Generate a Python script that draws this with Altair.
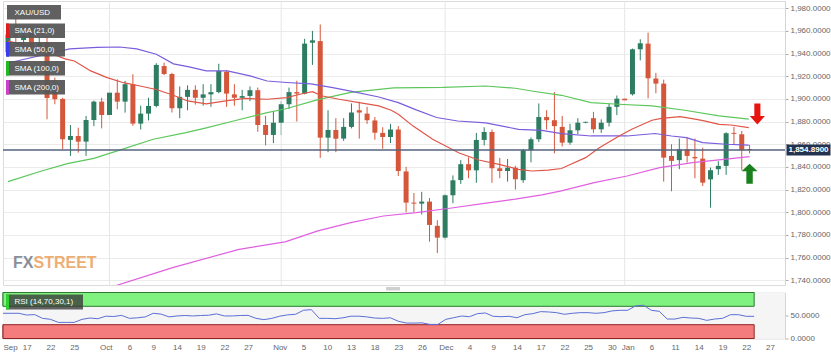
import altair as alt
import pandas as pd

# ---------------- data ----------------
dates = [d.strftime("%Y-%m-%d") for d in pd.bdate_range("2020-09-14", periods=96)]

opens = [1941, 1957, 1952, 1958, 1946.7, 1950, 1906, 1900, 1863.8, 1867.3,
         1862.3, 1881.4, 1897.6, 1885.8, 1905.5, 1897.6, 1913, 1878.2, 1887, 1893.8,
         1929, 1922, 1891.8, 1901.8, 1908, 1901, 1904, 1906, 1924, 1904,
         1901, 1902.6, 1907.7, 1877, 1868.2, 1879, 1895.3, 1906, 1904.7, 1949.6,
         1951, 1865.8, 1872.6, 1865, 1875.3, 1890, 1887, 1881, 1870, 1866.4,
         1873, 1836, 1808.5, 1807.6, 1809.4, 1788, 1777.6, 1815, 1828.4, 1842.4,
         1837, 1863.8, 1870.8, 1838.8, 1836.4, 1839.3, 1828.3, 1854.7, 1864.4, 1884,
         1881.2, 1875.3, 1861.4, 1872.3, 1879, 1883, 1873.2, 1879, 1893, 1900.2,
         1904.1, 1943.8, 1948.8, 1918, 1913.5, 1849.7, 1846, 1855.6, 1848.8, 1847.3,
         1829, 1838, 1840.9, 1870, 1868.8, 1855.8]
highs = [1966, 1972, 1961, 1962, 1955, 1955, 1918.8, 1901, 1877, 1874.6,
         1885, 1898.5, 1901, 1912.9, 1917.3, 1915.9, 1921.8, 1894, 1901, 1931.5,
         1932, 1923, 1911, 1912, 1912, 1913, 1913, 1931, 1925, 1913,
         1908, 1911, 1910, 1885, 1889, 1898, 1910, 1916, 1953, 1960,
         1965.7, 1890, 1883, 1883, 1896, 1897.5, 1893, 1884, 1875, 1878,
         1876, 1840, 1817, 1818, 1812.5, 1793, 1816, 1832.5, 1846, 1848.5,
         1870, 1875, 1873, 1848, 1847, 1841, 1855.6, 1866, 1896, 1890,
         1906, 1885, 1878, 1883, 1879.8, 1888.6, 1882, 1895.7, 1903, 1900.5,
         1944.5, 1952.6, 1958.5, 1923, 1917, 1860, 1865, 1866, 1865, 1857,
         1839.4, 1845, 1870.6, 1875.3, 1871.7, 1859.4]
lows = [1937, 1950, 1946, 1940, 1940, 1882, 1895.3, 1855.6, 1849.7, 1852.6,
        1849.7, 1876, 1874, 1881.4, 1890.9, 1887.9, 1876.2, 1873, 1881, 1892.5,
        1921, 1888, 1883, 1890, 1895, 1894, 1893, 1905, 1893, 1894,
        1890, 1898, 1871, 1859, 1861, 1868, 1891, 1880, 1904, 1930,
        1848, 1853, 1853, 1863, 1874, 1865, 1878, 1864, 1856, 1861,
        1832, 1800, 1800, 1798, 1774, 1764, 1776, 1808, 1825, 1830,
        1826, 1859, 1826, 1830, 1827, 1820, 1826, 1844, 1862, 1873,
        1852, 1858, 1859.6, 1869, 1878.5, 1870, 1870, 1875.6, 1885.7, 1898.5,
        1903, 1934, 1900.5, 1905, 1827, 1818.5, 1838, 1843.8, 1830, 1823.2,
        1804, 1833, 1833, 1859.4, 1837, 1852]
closes = [1957, 1955, 1956, 1946.7, 1949.7, 1900.8, 1899.7, 1864.4, 1867.3, 1862.3,
          1881.4, 1897.6, 1885.8, 1905.5, 1897.6, 1913, 1878.2, 1887, 1893.8, 1930,
          1922, 1891.8, 1901.8, 1908, 1901, 1904, 1906, 1924.7, 1904.7, 1901,
          1902.5, 1907.7, 1877, 1868.2, 1879, 1895.3, 1906, 1904.7, 1948.8, 1951.7,
          1865.8, 1872.6, 1864.9, 1875.3, 1888, 1888, 1881.2, 1870.2, 1866.4, 1873,
          1836.4, 1808.5, 1807.6, 1809.4, 1788.8, 1777.6, 1815, 1828.2, 1842.4, 1837,
          1863.8, 1870.8, 1838.8, 1836.4, 1839.3, 1829.2, 1854.7, 1864.4, 1884, 1881.2,
          1876, 1861.4, 1872.3, 1879, 1879.8, 1873.2, 1879, 1893, 1900.2, 1898.8,
          1943.8, 1949.1, 1918.2, 1913.5, 1848.2, 1845.3, 1855.6, 1849.7, 1847.6, 1826.1,
          1837.1, 1840.9, 1869.7, 1869.2, 1854.7, 1854.89]

rsi = [54.8, 54.8, 54.8, 51.0, 52.0, 43.8, 41.7, 35.0, 35.0, 35.0,
       41.7, 44.5, 43.0, 48.5, 47.8, 50.3, 43.8, 45.0, 47.0, 54.8,
       53.0, 47.0, 49.0, 50.0, 49.0, 50.0, 50.6, 53.5, 49.0, 49.0,
       50.0, 50.3, 43.8, 41.0, 43.8, 48.5, 51.4, 52.6, 61.4, 62.7,
       43.8, 43.8, 43.0, 45.0, 48.5, 48.5, 47.0, 44.5, 43.8, 45.0,
       37.5, 33.6, 33.5, 34.0, 30.6, 30.6, 41.6, 45.2, 48.9, 47.4,
       54.0, 55.5, 48.2, 47.4, 48.2, 45.2, 51.8, 54.0, 58.4, 57.7,
       56.2, 52.6, 54.8, 56.2, 56.2, 54.8, 56.2, 59.9, 61.3, 61.3,
       70.8, 72.3, 61.3, 59.1, 42.3, 42.3, 46.0, 44.5, 43.8, 39.4,
       42.3, 43.8, 51.8, 51.8, 48.2, 48.2]

sma21_x = [0, 3.8, 7.3, 8.5, 10.6, 12.7, 14.8, 16.9, 19.0, 21.1, 23.0, 25.4, 27.9, 30.4,
           33.2, 35.7, 37.4, 39.0, 40.3, 42.4, 45.0, 47.5, 49.1, 50.0, 51.9, 54.4, 57.8,
           60.3, 62.9, 65.4, 67.1, 69.2, 70.9, 72.1, 74.0, 75.7, 78.3, 79.9, 82.5, 83.7,
           86.1, 88.2, 89.2, 91.1, 92.6, 94.9]
sma21_y = [1951, 1945, 1935.3, 1933.5, 1924.7, 1918.8, 1914.3, 1911.4, 1908.3, 1903.5,
           1898.2, 1895.6, 1898.2, 1900.4, 1899.7, 1901.1, 1904.1, 1906.4, 1902.6, 1899.7,
           1896.7, 1893.8, 1890.0, 1886.5, 1876.0, 1864.4, 1852.3, 1846.1, 1842.3, 1837.9,
           1836.4, 1837.1, 1838.6, 1842.3, 1848.2, 1856.7, 1867.3, 1873.2, 1881.2, 1882.9,
           1884.3, 1882.0, 1880.6, 1877.6, 1877.0, 1874.6]

sma50_x = [0, 7.9, 11.4, 14.3, 16.5, 19.0, 21.2, 23.2, 25.4, 28.1, 31.0, 33.2, 35.7, 38.8,
           41.6, 43.9, 47.5, 50.0, 52.3, 54.9, 57.6, 61.2, 65.4, 68.4, 70.9, 74.7, 79.3,
           82.9, 85.0, 86.9, 89.0, 92.0, 94.9]
sma50_y = [1931.7, 1944.1, 1945.4, 1945.8, 1944.1, 1939.4, 1930.9, 1928.2, 1924.7, 1924.7,
           1920.3, 1915.8, 1914.5, 1913.2, 1909.9, 1906.8, 1901.7, 1896.7, 1890.3, 1883.6,
           1880.5, 1878.8, 1873.2, 1872.2, 1869.3, 1867.3, 1867.3, 1869.5, 1867.3, 1865.8,
           1861.4, 1860.0, 1859.2]

sma100_x = [0, 4.3, 7.6, 11.0, 14.4, 18.6, 22.8, 25.4, 28.9, 33.2, 35.5, 39.6, 43.9, 49.4,
            55.7, 61.2, 65.0, 67.1, 70.9, 74.7, 78.2, 82.5, 86.7, 91.1, 94.9]
sma100_y = [1827.0, 1836.4, 1842.9, 1847.6, 1855.0, 1864.4, 1870.2, 1874.4, 1880.5, 1887.9,
            1891.1, 1899.1, 1905.7, 1909.7, 1910.1, 1911.4, 1909.4, 1907.0, 1903.2, 1896.7,
            1895.3, 1893.8, 1890.0, 1885.0, 1882.1]

sma200_x = [13.7, 21.1, 29.6, 35.5, 39.7, 43.9, 48.1, 52.3, 56.6, 60.8, 65.0, 68.4, 70.9,
            75.1, 79.3, 83.5, 87.7, 92.0, 95.0]
sma200_y = [1735.0, 1751.1, 1767.3, 1773.8, 1783.5, 1790.8, 1796.7, 1799.6, 1803.5, 1807.6,
            1811.5, 1815.3, 1818.8, 1826.1, 1832.0, 1839.3, 1843.8, 1846.8, 1849.1]

current_price = 1854.89
month_starts = [13, 35, 56, 79]
arrow_x = [96.0, 95.0]
arrow_y = [1886.7, 1834.0]

tick_idx = [0, 3, 6, 9, 13, 16, 19, 22, 25, 28, 31, 35, 38, 41, 44, 47, 50, 53, 56, 59,
            62, 65, 68, 71, 74, 77, 79, 82, 85, 88, 91, 94, 97]
tick_lbl = ["Sep", "17", "22", "25", "Oct", "6", "9", "14", "19", "22", "27", "Nov", "5",
            "10", "13", "18", "23", "26", "Dec", "4", "9", "14", "17", "22", "25", "30",
            "Jan", "6", "11", "14", "19", "22", "27"]
price_ticks = list(range(1740, 1981, 20))
rsi_ticks = [0, 50]
legend_names = ["XAU/USD", "SMA (21,0)", "SMA (50,0)", "SMA (100,0)", "SMA (200,0)"]

# ---------------- styles ----------------
FONT = "Liberation Sans"
UP, DOWN = "#2e7d62", "#d4573b"
X_DOM = [0, 98.9]
Y_DOM = [1735.8, 1986.4]
W, H_MAIN, H_RSI = 782, 284, 46

xs = alt.Scale(domain=X_DOM, nice=False, zero=False)
ys = alt.Scale(domain=Y_DOM, nice=False, zero=False)
ry = alt.Scale(domain=[0, 100], nice=False, zero=False)

yaxis = alt.Axis(orient="right", values=price_ticks, format=",.4f", title=None,
                 grid=True, gridColor="#ebebeb", tickSize=3, tickColor="#aaaaaa",
                 labelPadding=2, labelFontSize=8, labelColor="#666666", labelFont=FONT,
                 domainColor="#d5d5d5")
lbl_js = "[" + ",".join("'%s'" % s for s in tick_lbl) + "]"
idx_js = "[" + ",".join(str(v) for v in tick_idx) + "]"
xaxis = alt.Axis(values=tick_idx, labelExpr=f"{lbl_js}[indexof({idx_js}, datum.value)]",
                 title=None, grid=False, ticks=False, domain=False, labelPadding=5,
                 labelFontSize=8, labelColor="#666666", labelFont=FONT, labelOverlap=False,
                 labelFlush=True)
ryaxis = alt.Axis(orient="right", values=rsi_ticks, format=".4f", title=None, grid=False,
                  tickSize=3, tickColor="#aaaaaa", labelPadding=2, labelFontSize=8,
                  labelColor="#666666", labelFont=FONT, domainColor="#d5d5d5")


def XM(f):
    return alt.X(f, scale=xs, axis=None)


def YM(f):
    return alt.Y(f, scale=ys, axis=yaxis)


df = pd.DataFrame({"i": list(range(len(dates))), "date": dates, "open": opens,
                   "high": highs, "low": lows, "close": closes})
df["dir"] = ["up" if c >= o else "down" for o, c in zip(opens, closes)]
col = alt.Color("dir:N", scale=alt.Scale(domain=["up", "down"], range=[UP, DOWN]), legend=None)

wicks = alt.Chart(df).mark_rule(strokeWidth=1, clip=True).encode(
    x=XM("i:Q"), y=YM("low:Q"), y2="high:Q", color=col)
bodies = alt.Chart(df).mark_bar(width=5, clip=True).encode(
    x=XM("i:Q"), y=YM("open:Q"), y2="close:Q", color=col)

grid_v = alt.Chart(pd.DataFrame({"m": month_starts})).mark_rule(
    color="#e6e6e6", strokeWidth=1).encode(x=XM("m:Q"))


def sma_layer(xv, yv, c):
    d = pd.DataFrame({"i": xv, "v": yv})
    return alt.Chart(d).mark_line(color=c, strokeWidth=1.2, clip=True).encode(
        x=XM("i:Q"), y=YM("v:Q"))


smas = [sma_layer(sma100_x, sma100_y, "#5cc75c"),
        sma_layer(sma200_x, sma200_y, "#e060e0"),
        sma_layer(sma50_x, sma50_y, "#7a5ddc"),
        sma_layer(sma21_x, sma21_y, "#e05548")]

pdf = pd.DataFrame({"p": [current_price]})
price_rule = alt.Chart(pdf).mark_rule(color="#56637f", strokeWidth=1.5).encode(y=YM("p:Q"))
price_box = alt.Chart(pdf).mark_tick(color="#22324f", orient="horizontal", thickness=11,
                                     size=44, opacity=1).encode(x=alt.value(805.5), y=YM("p:Q"))
price_txt = alt.Chart(pdf).mark_text(color="white", fontSize=8, fontWeight="bold",
                                     font=FONT, align="center", baseline="middle").encode(
    x=alt.value(805.5), y=YM("p:Q"), text=alt.Text("p:Q", format=",.4f"))

DOWN_PATH = "M-0.29,-1 L0.29,-1 L0.29,0.2 L0.72,0.2 L0,1 L-0.72,0.2 L-0.29,0.2 Z"
UP_PATH = "M-0.32,1 L0.32,1 L0.32,-0.25 L0.8,-0.25 L0,-1 L-0.8,-0.25 L-0.32,-0.25 Z"
adf = pd.DataFrame({"i": arrow_x, "v": arrow_y})
red_arrow = alt.Chart(adf.iloc[[0]]).mark_point(
    shape=DOWN_PATH, size=441, filled=True, color="#e8140e", opacity=1, strokeWidth=0).encode(
    x=XM("i:Q"), y=YM("v:Q"))
green_arrow = alt.Chart(adf.iloc[[1]]).mark_point(
    shape=UP_PATH, size=400, filled=True, color="#18801c", opacity=1, strokeWidth=0).encode(
    x=XM("i:Q"), y=YM("v:Q"))

one = pd.DataFrame({"a": [0]})


def box(x1, x2, y1, y2, fill, op=1.0):
    return alt.Chart(one).mark_rect(color=fill, opacity=op).encode(
        x=alt.value(x1), x2=alt.value(x2), y=alt.value(y1), y2=alt.value(y2))


def label(x, y, txt, c="white", size=8, weight="normal", op=1.0):
    return alt.Chart(one).mark_text(text=txt, align="left", baseline="middle", color=c,
                                    fontSize=size, fontWeight=weight, font=FONT,
                                    opacity=op).encode(x=alt.value(x), y=alt.value(y))


strip_cols = [None, "#e01c1c", "#3b3bf0", "#25b825", "#cc3fcc"]
tops = [4, 22.5, 41, 60, 79]
legend_layers = []
for k, (name, sc, t) in enumerate(zip(legend_names, strip_cols, tops)):
    legend_layers.append(box(4 if k == 0 else 3, 58 if k == 0 else 62, t, t + 14.5,
                             "#575757", 0.95))
    if sc:
        legend_layers.append(box(3, 6, t, t + 14.5, sc))
    legend_layers.append(label(11.5, t + 7.5, name))

watermark = [label(10, 262, "FX", c="#7d838f", size=16, weight="bold", op=0.9),
             label(30.5, 262, "STREET", c="#eca666", size=16, weight="bold", op=0.9)]
scroll = alt.Chart(one).mark_rect(color="#cfcfcf", cornerRadius=1).encode(
    x=alt.value(383), x2=alt.value(397), y=alt.value(286), y2=alt.value(289.5))

main = alt.layer(wicks, grid_v, bodies, *smas, price_rule, red_arrow, green_arrow,
                 *legend_layers, *watermark, price_box, price_txt, scroll).properties(
    width=W, height=H_MAIN)

# ---------------- RSI panel ----------------
band_df = pd.DataFrame({"x0": [0, 0], "x1": [len(dates) - 1] * 2, "lo": [70, 0],
                        "hi": [100, 30], "k": ["ob", "os"]})
bands = alt.Chart(band_df).mark_rect(strokeWidth=1).encode(
    x=alt.X("x0:Q", scale=xs, axis=xaxis), x2="x1:Q",
    y=alt.Y("lo:Q", scale=ry, axis=ryaxis), y2="hi:Q",
    fill=alt.Fill("k:N", scale=alt.Scale(domain=["ob", "os"], range=["#7ff27f", "#f57c7c"]),
                  legend=None),
    stroke=alt.Stroke("k:N", scale=alt.Scale(domain=["ob", "os"], range=["#2f7a2f", "#8e2323"]),
                      legend=None))
rdf = pd.DataFrame({"i": list(range(len(rsi))), "rsi": rsi})
rsi_line = alt.Chart(rdf).mark_line(color="#5b6fd6", strokeWidth=1).encode(
    x=alt.X("i:Q", scale=xs, axis=xaxis), y=alt.Y("rsi:Q", scale=ry, axis=ryaxis))
rsi_bg = box(0, W, 0, H_RSI, "#f5f5f5")
rsi_box = [box(3, 80, 2, 17, "#383838", 0.78), box(3, 6, 2, 17, "#2fd02f"),
           label(11.5, 9.5, "RSI (14,70,30,1)")]

rsi_chart = alt.layer(bands, rsi_bg, bands, rsi_line, *rsi_box).properties(
    width=W, height=H_RSI)

chart = alt.vconcat(main, rsi_chart, spacing=7.5, bounds="flush").properties(
    padding={"left": 0, "top": 0, "right": 0, "bottom": 0}, background="white"
).configure(font=FONT).configure_view(stroke="#dcdcdc")

chart.save("out.html", embed_options={"renderer": "svg", "actions": False})
